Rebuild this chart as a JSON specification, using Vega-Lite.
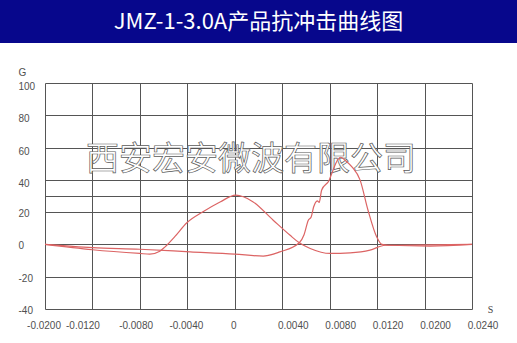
{
  "$schema": "https://vega.github.io/schema/vega-lite/v6.json",
  "padding": 0,
  "autosize": {"type": "pad"},
  "background": "white",
  "bounds": "flush",
  "center": true,
  "spacing": 40,
  "config": {"view": {"stroke": null}},
  "vconcat": [
    {
      "width": 517,
      "height": 43,
      "view": {"fill": "#07078c", "stroke": null},
      "data": {"values": [{"title": "JMZ-1-3.0A产品抗冲击曲线图"}]},
      "mark": {"type": "text", "font": "Noto Sans CJK SC", "fontSize": 22, "color": "white", "align": "center", "baseline": "middle"},
      "encoding": {
        "text": {"field": "title"},
        "x": {"datum": 0, "type": "quantitative", "scale": {"domain": [-1, 1]}, "axis": null},
        "y": {"datum": 0, "type": "quantitative", "scale": {"domain": [-1, 1]}, "axis": null}
      }
    },
    {
      "width": 427,
      "height": 226,
      "encoding": {
        "x": {
          "field": "t", "type": "quantitative",
          "scale": {"domain": [-0.02, -0.012, 0.012, 0.02, 0.024], "range": [0, 47.444, 332.111, 379.556, 427], "nice": false, "zero": false},
          "axis": {
            "values": [-0.02, -0.012, -0.008, -0.004, 0, 0.004, 0.008, 0.012, 0.02, 0.024],
            "labelExpr": "datum.value == 0 ? '0' : replace(format(datum.value, '.4f'), '\u2212', '-')",
            "domain": false, "ticks": false, "tickSize": 0,
            "grid": true, "gridColor": "#555555", "gridWidth": 1, "gridOpacity": 1,
            "labelFont": "Liberation Sans", "labelFontSize": 10, "labelColor": "#505050",
            "labelPadding": 11, "labelFlush": false, "labelOverlap": false, "labelBound": false,
            "labelOffset": {"condition": [{"test": "datum.value > 0.001", "value": 10.5}, {"test": "abs(datum.value + 0.012) < 0.0001", "value": -10}, {"test": "abs(datum.value + 0.008) < 0.0001", "value": -4.3}], "value": -1.5},
            "title": "S", "titleFont": "Liberation Serif", "titleFontSize": 10, "titleFontWeight": "normal", "titleColor": "#444444",
            "titleX": 445, "titleY": 0, "titleAlign": "center", "titleBaseline": "middle"
          }
        },
        "y": {
          "field": "g", "type": "quantitative",
          "scale": {"domain": [-40, 100], "nice": false, "zero": false},
          "axis": {
            "values": [-40, -20, 0, 20, 30, 40, 60, 80, 100],
            "labelExpr": "datum.value == 30 ? '' : toString(datum.value)",
            "domain": false, "ticks": false, "tickSize": 0,
            "grid": true, "gridColor": "#555555", "gridWidth": 1, "gridOpacity": 1,
            "labelFont": "Liberation Sans", "labelFontSize": 10, "labelColor": "#505050",
            "labelAlign": "left", "labelBaseline": "middle", "labelPadding": 27,
            "labelOffset": {"condition": {"test": "datum.value >= 40", "value": 3.5}, "value": 1.5},
            "labelFlush": false, "labelOverlap": false, "labelBound": false,
            "title": "G", "titleFont": "Liberation Sans", "titleFontSize": 10, "titleFontWeight": "normal", "titleColor": "#505050",
            "titleAngle": 0, "titleX": -23, "titleY": -11, "titleAlign": "center", "titleBaseline": "middle"
          }
        }
      },
      "layer": [
        {
          "data": {"values": [{"t": 0.00137, "g": 52, "label": "西安宏安微波有限公司"}]},
          "mark": {"type": "text", "font": "Noto Sans CJK SC", "fontSize": 33, "fill": "white", "stroke": "#5a5a5a", "strokeWidth": 0.7, "align": "center", "baseline": "middle"},
          "encoding": {
            "text": {"field": "label"}
          }
        },
        {
          "data": {"values": [
            {"series": "A", "t": -0.02, "g": 0},
            {"series": "A", "t": -0.012, "g": -3.3},
            {"series": "A", "t": -0.008, "g": -5.6},
            {"series": "A", "t": -0.00716, "g": -6},
            {"series": "A", "t": -0.00632, "g": -4.2},
            {"series": "A", "t": -0.00588, "g": -1.5},
            {"series": "A", "t": -0.00504, "g": 5},
            {"series": "A", "t": -0.00404, "g": 13.4},
            {"series": "A", "t": -0.00268, "g": 20.2},
            {"series": "A", "t": -0.00124, "g": 26.3},
            {"series": "A", "t": 0.00008, "g": 30.5},
            {"series": "A", "t": 0.00152, "g": 26.5},
            {"series": "A", "t": 0.00324, "g": 15},
            {"series": "A", "t": 0.00464, "g": 5.8},
            {"series": "A", "t": 0.00544, "g": 1},
            {"series": "A", "t": 0.00636, "g": -2.5},
            {"series": "A", "t": 0.00804, "g": -5.6},
            {"series": "A", "t": 0.00972, "g": -5.2},
            {"series": "A", "t": 0.0114, "g": -3.5},
            {"series": "A", "t": 0.01336, "g": -0.5},
            {"series": "A", "t": 0.02048, "g": -0.3},
            {"series": "A", "t": 0.024, "g": 0},
            {"series": "B", "t": -0.02, "g": 0},
            {"series": "B", "t": -0.012, "g": -2},
            {"series": "B", "t": -0.008, "g": -3},
            {"series": "B", "t": -0.00376, "g": -4.6},
            {"series": "B", "t": 0, "g": -6},
            {"series": "B", "t": 0.0024, "g": -7.2},
            {"series": "B", "t": 0.0038, "g": -4.6},
            {"series": "B", "t": 0.00544, "g": 1},
            {"series": "B", "t": 0.00584, "g": 6},
            {"series": "B", "t": 0.0062, "g": 15},
            {"series": "B", "t": 0.00644, "g": 17},
            {"series": "B", "t": 0.00664, "g": 23},
            {"series": "B", "t": 0.00696, "g": 27},
            {"series": "B", "t": 0.00712, "g": 26},
            {"series": "B", "t": 0.00732, "g": 33.6},
            {"series": "B", "t": 0.00796, "g": 39.8},
            {"series": "B", "t": 0.00828, "g": 46},
            {"series": "B", "t": 0.00864, "g": 52},
            {"series": "B", "t": 0.00892, "g": 54},
            {"series": "B", "t": 0.00932, "g": 52},
            {"series": "B", "t": 0.00988, "g": 48},
            {"series": "B", "t": 0.01056, "g": 40},
            {"series": "B", "t": 0.01124, "g": 21},
            {"series": "B", "t": 0.01196, "g": 4.7},
            {"series": "B", "t": 0.0128, "g": 0},
            {"series": "B", "t": 0.01384, "g": -0.5},
            {"series": "B", "t": 0.02048, "g": -1},
            {"series": "B", "t": 0.024, "g": 0}
          ]},
          "mark": {"type": "line", "color": "#dc6464", "strokeWidth": 1.2, "interpolate": "monotone"},
          "encoding": {
            "detail": {"field": "series", "type": "nominal"}
          }
        }
      ]
    }
  ]
}
